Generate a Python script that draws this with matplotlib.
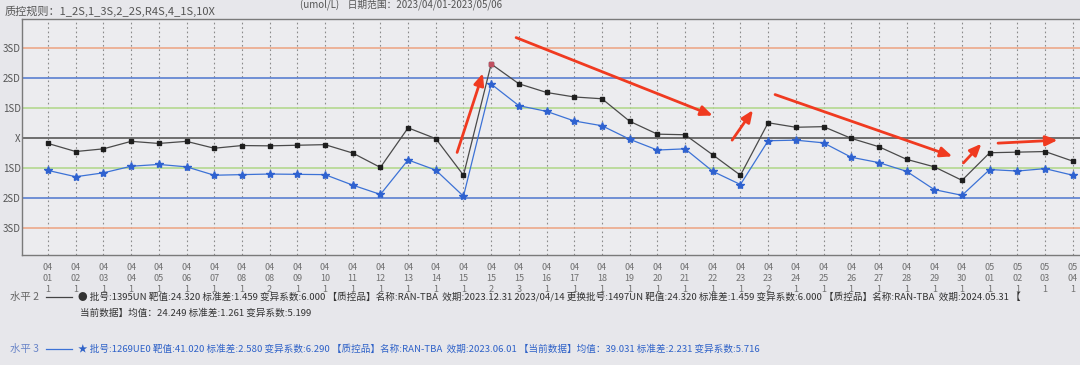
import matplotlib
matplotlib.use('Agg')
import matplotlib.pyplot as plt
import numpy as np

plt.rcParams['font.family'] = ['Noto Sans CJK SC', 'DejaVu Sans']

# x categories: month / day / run number
months = ['04'] * 34 + ['05'] * 4
days = ['01', '02', '03', '04', '05', '06', '07', '08', '08', '09', '10', '11', '12', '13',
        '14', '15', '15', '15', '16', '17', '18', '19', '20', '21', '22', '23', '23', '24',
        '25', '26', '27', '28', '29', '30', '01', '02', '03', '04']
runs = ['1'] * 8 + ['2'] + ['1'] * 7 + ['2', '3'] + ['1'] * 8 + ['2'] + ['1'] * 11

# results in SD units (level 2 = black squares, level 3 = blue stars)
level2_sd = [-0.18, -0.45, -0.36, -0.11, -0.18, -0.11, -0.34, -0.25, -0.26, -0.24,
             -0.22, -0.50, -0.98, 0.34, -0.02, -1.24, 2.47, 1.81, 1.52, 1.37,
             1.31, 0.56, 0.13, 0.11, -0.56, -1.24, 0.51, 0.36, 0.38, -0.01,
             -0.29, -0.71, -0.96, -1.41, -0.49, -0.47, -0.45, -0.77]
level3_sd = [-1.08, -1.29, -1.16, -0.94, -0.88, -0.96, -1.24, -1.22, -1.20, -1.21,
             -1.22, -1.57, -1.88, -0.73, -1.07, -1.94, 1.80, 1.08, 0.89, 0.57,
             0.41, -0.04, -0.40, -0.36, -1.11, -1.55, -0.09, -0.07, -0.16, -0.64,
             -0.82, -1.11, -1.72, -1.91, -1.05, -1.10, -1.02, -1.24]

sd_levels = [3, 2, 1, 0, -1, -2, -3]
sd_labels = ['3SD', '2SD', '1SD', 'X', '1SD', '2SD', '3SD']
sd_colors = ['#eca88a', '#5a7fd0', '#b4d890', '#6e6e6e', '#b4d890', '#5a7fd0', '#eca88a']

# hand drawn red arrows (start, end) in (run index, SD)
arrows = [((14.77, -0.48), (15.7, 2.16)),
          ((16.9, 3.35), (24.0, 0.75)),
          ((24.7, -0.07), (25.45, 0.93)),
          ((26.25, 1.45), (32.65, -0.61)),
          ((33.05, -0.83), (33.7, -0.19)),
          ((34.3, -0.17), (36.45, -0.07))]

W, H = 1080, 365
bg = '#e7e7eb'
fig = plt.figure(figsize=(W / 100, H / 100), dpi=100, facecolor=bg)
ax = fig.add_axes([22 / W, (H - 255) / H, (W - 22) / W, (255 - 19) / H])
ax.set_facecolor('#ececef')

x = np.arange(len(days))
ax.set_xlim(-0.94, 37.26)
ax.set_ylim(-3.9, 3.97)

for xi in x:
    ax.axvline(xi, color='#8a8a8a', lw=0.8, ls=(0, (1.5, 2.5)), zorder=1)

for lev, col in zip(sd_levels, sd_colors):
    ax.axhline(lev, color=col, lw=1.4 if lev == 0 else 1.2, zorder=2)

ax.plot(x, level2_sd, color='#4a4a4a', lw=0.9, marker='s', ms=3,
        mfc='#1e1e1e', mec='#1e1e1e', zorder=4)
ax.plot(x, level3_sd, color='#3c72d6', lw=0.9, marker='*', ms=6,
        mfc='#2f62d0', mec='#2f62d0', zorder=4)
out2 = [i for i, v in enumerate(level2_sd) if abs(v) > 2]
ax.plot(x[out2], np.array(level2_sd)[out2], ls='none', marker='s', ms=3,
        mfc='#c05060', mec='#c05060', zorder=5)

for (x0, y0), (x1, y1) in arrows:
    ax.annotate('', xy=(x1, y1), xytext=(x0, y0),
                arrowprops=dict(arrowstyle='-|>,head_length=0.7,head_width=0.3',
                                color='#f03a20', lw=2, shrinkA=0, shrinkB=0),
                zorder=6)

ax.set_xticks(x)
ax.set_xticklabels(['%s\n%s\n%s' % t for t in zip(months, days, runs)],
                   fontsize=6.5, color='#707070', linespacing=1.25)
ax.set_yticks(sd_levels)
ax.set_yticklabels(sd_labels, fontsize=7, color='#555555')
ax.tick_params(length=0, pad=1)
ax.tick_params(axis='x', pad=6)
for s in ['top', 'left', 'bottom']:
    ax.spines[s].set_color('#7a7a7a')
    ax.spines[s].set_linewidth(1.0)
ax.spines['right'].set_visible(False)

# header and legend text
fig.text(5 / W, 1 - 11 / H, '质控规则：1_2S,1_3S,2_2S,R4S,4_1S,10X', fontsize=8,
         color='#555555', va='center')
fig.text(300 / W, 1 - 5 / H, '(umol/L)    日期范围：2023/04/01-2023/05/06', fontsize=7,
         color='#555555', va='center')

lv2_a = ('● 批号:1395UN 靶值:24.320 标准差:1.459 变异系数:6.000 【质控品】名称:RAN-TBA  效期:2023.12.31 '
         '2023/04/14 更换批号:1497UN 靶值:24.320 标准差:1.459 变异系数:6.000 【质控品】名称:RAN-TBA  效期:2024.05.31 【')
lv2_b = '当前数据】均值：24.249 标准差:1.261 变异系数:5.199'
lv3 = ('★ 批号:1269UE0 靶值:41.020 标准差:2.580 变异系数:6.290 【质控品】名称:RAN-TBA  效期:2023.06.01 '
       '【当前数据】均值：39.031 标准差:2.231 变异系数:5.716')

fs = 6.9
fig.text(10 / W, 1 - 297 / H, '水平 2', fontsize=7.5, color='#666666', va='center')
fig.lines.append(plt.Line2D([46 / W, 72 / W], [1 - 297 / H] * 2, color='#444444', lw=0.9,
                            transform=fig.transFigure))
fig.text(78 / W, 1 - 297 / H, lv2_a, fontsize=fs, color='#333333', va='center')
fig.text(80 / W, 1 - 313 / H, lv2_b, fontsize=fs, color='#333333', va='center')
fig.text(10 / W, 1 - 349 / H, '水平 3', fontsize=7.5, color='#6a85c8', va='center')
fig.lines.append(plt.Line2D([46 / W, 72 / W], [1 - 349 / H] * 2, color='#3c72d6', lw=0.9,
                            transform=fig.transFigure))
fig.text(78 / W, 1 - 349 / H, lv3, fontsize=fs, color='#2f62c8', va='center')

fig.savefig('out.png', dpi=100, facecolor=bg)
